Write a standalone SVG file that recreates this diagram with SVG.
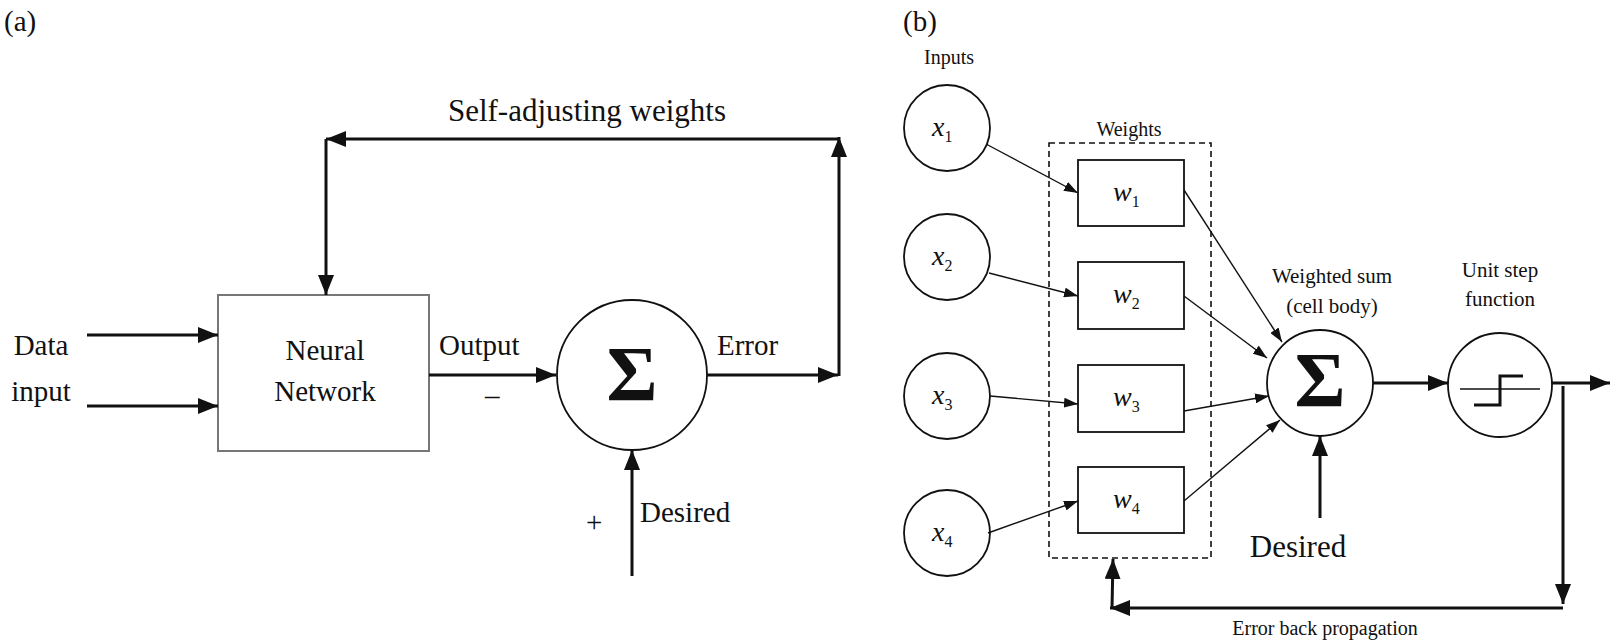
<svg xmlns="http://www.w3.org/2000/svg" width="1613" height="642" viewBox="0 0 1613 642">
<style>
text{font-family:"Liberation Serif","Times New Roman",serif;fill:#111}
.t{font-size:29px}
.s{font-size:20px}
.i{font-style:italic;font-size:28px}
.sub{font-size:16px;font-style:normal}
.sig{font-size:78px;font-weight:bold;text-anchor:middle}
.thick{stroke:#111;stroke-width:3;fill:none}
.thin{stroke:#111;stroke-width:1.4;fill:none}
.node{stroke:#111;stroke-width:1.8;fill:#fff}
</style>
<defs>
<marker id="ah" markerUnits="userSpaceOnUse" markerWidth="20" markerHeight="16" viewBox="0 0 20 16" refX="20" refY="8" orient="auto"><path d="M0,0L20,8L0,16z" fill="#111"/></marker>
<marker id="as" markerUnits="userSpaceOnUse" markerWidth="14" markerHeight="10" viewBox="0 0 14 10" refX="14" refY="5" orient="auto"><path d="M0,0L14,5L0,10z" fill="#111"/></marker>
</defs>
<rect width="1613" height="642" fill="#fff"/>
<text x="4" y="31" class="t">(a)</text>
<text x="903" y="31" class="t">(b)</text>
<g id="a-nn"><rect x="218" y="295" width="211" height="156" fill="#fff" stroke="#777" stroke-width="2"/><text x="325" y="360" class="t" text-anchor="middle">Neural</text><text x="325" y="401" class="t" text-anchor="middle">Network</text></g>
<g id="a-sum"><circle cx="632" cy="375" r="75" class="node"/><text x="632" y="400" class="sig">Σ</text></g>
<g id="a-labels">
<text x="587" y="121" font-size="31" text-anchor="middle">Self-adjusting weights</text>
<text x="41" y="355" class="t" text-anchor="middle">Data</text><text x="41" y="401" class="t" text-anchor="middle">input</text>
<text x="439" y="355" class="t">Output</text><text x="485" y="405" class="t">–</text>
<text x="717" y="355" class="t">Error</text>
<text x="586" y="532" class="t">+</text><text x="640" y="522" class="t">Desired</text>
</g>
<g id="b-inputs">
<text x="949" y="64" class="s" text-anchor="middle">Inputs</text>
<circle cx="947" cy="128" r="43" class="node"/><text x="932" y="136" class="i">x<tspan class="sub" dy="6">1</tspan></text>
<circle cx="947" cy="257" r="43" class="node"/><text x="932" y="265" class="i">x<tspan class="sub" dy="6">2</tspan></text>
<circle cx="947" cy="396" r="43" class="node"/><text x="932" y="404" class="i">x<tspan class="sub" dy="6">3</tspan></text>
<circle cx="947" cy="533" r="43" class="node"/><text x="932" y="541" class="i">x<tspan class="sub" dy="6">4</tspan></text>
</g>
<g id="b-weights">
<rect x="1049" y="143" width="162" height="415" fill="none" stroke="#111" stroke-width="1.6" stroke-dasharray="6,4"/>
<text x="1129" y="136" class="s" text-anchor="middle">Weights</text>
<rect x="1078" y="160" width="106" height="66" class="node"/><text x="1113" y="201" class="i">w<tspan class="sub" dy="6">1</tspan></text>
<rect x="1078" y="262" width="106" height="67" class="node"/><text x="1113" y="303" class="i">w<tspan class="sub" dy="6">2</tspan></text>
<rect x="1078" y="365" width="106" height="67" class="node"/><text x="1113" y="406" class="i">w<tspan class="sub" dy="6">3</tspan></text>
<rect x="1078" y="467" width="106" height="66" class="node"/><text x="1113" y="508" class="i">w<tspan class="sub" dy="6">4</tspan></text>
</g>
<g id="b-sum"><circle cx="1320" cy="383" r="53" class="node"/><text x="1320" y="406" class="sig" font-size="64">Σ</text>
<text x="1332" y="283" font-size="21" text-anchor="middle">Weighted  sum</text><text x="1332" y="313" font-size="21" text-anchor="middle">(cell body)</text></g>
<g id="b-step"><circle cx="1500" cy="385" r="52" class="node"/>
<line x1="1460" y1="389" x2="1540" y2="389" class="thin"/>
<path d="M1474,405H1500V376H1523" class="thick"/>
<text x="1500" y="277" font-size="21" text-anchor="middle">Unit step</text><text x="1500" y="306" font-size="21" text-anchor="middle">function</text></g>
<g id="b-labels"><text x="1298" y="557" font-size="31" text-anchor="middle">Desired</text><text x="1325" y="635" class="s" text-anchor="middle">Error back propagation</text></g>
<g id="connectors">
<line x1="87" y1="335" x2="218" y2="335" class="thick" marker-end="url(#ah)"/>
<line x1="87" y1="406" x2="218" y2="406" class="thick" marker-end="url(#ah)"/>
<line x1="429" y1="375" x2="556" y2="375" class="thick" marker-end="url(#ah)"/>
<line x1="707" y1="375" x2="838" y2="375" class="thick" marker-end="url(#ah)"/>
<line x1="839" y1="376" x2="839" y2="137" class="thick" marker-end="url(#ah)"/>
<polyline points="839,139 326,139" class="thick" marker-end="url(#ah)"/>
<line x1="326" y1="139" x2="326" y2="295" class="thick" marker-end="url(#ah)"/>
<line x1="632" y1="576" x2="632" y2="450" class="thick" marker-end="url(#ah)"/>
<line x1="986" y1="144" x2="1078" y2="193" class="thin" marker-end="url(#as)"/>
<line x1="989" y1="273" x2="1078" y2="296" class="thin" marker-end="url(#as)"/>
<line x1="990" y1="396" x2="1078" y2="404" class="thin" marker-end="url(#as)"/>
<line x1="988" y1="533" x2="1078" y2="501" class="thin" marker-end="url(#as)"/>
<line x1="1184" y1="190" x2="1282" y2="342" class="thin" marker-end="url(#as)"/>
<line x1="1184" y1="296" x2="1267" y2="358" class="thin" marker-end="url(#as)"/>
<line x1="1184" y1="411" x2="1269" y2="396" class="thin" marker-end="url(#as)"/>
<line x1="1184" y1="501" x2="1280" y2="420" class="thin" marker-end="url(#as)"/>
<line x1="1373" y1="383" x2="1448" y2="383" class="thick" marker-end="url(#ah)"/>
<line x1="1552" y1="383" x2="1610" y2="383" class="thick" marker-end="url(#ah)"/>
<line x1="1563" y1="386" x2="1563" y2="604" class="thick" marker-end="url(#ah)"/>
<line x1="1563" y1="608" x2="1110" y2="608" class="thick" marker-end="url(#ah)"/>
<line x1="1112" y1="608" x2="1113" y2="559" class="thick" marker-end="url(#ah)"/>
<line x1="1320" y1="518" x2="1320" y2="436" class="thick" marker-end="url(#ah)"/>
</g>
</svg>
